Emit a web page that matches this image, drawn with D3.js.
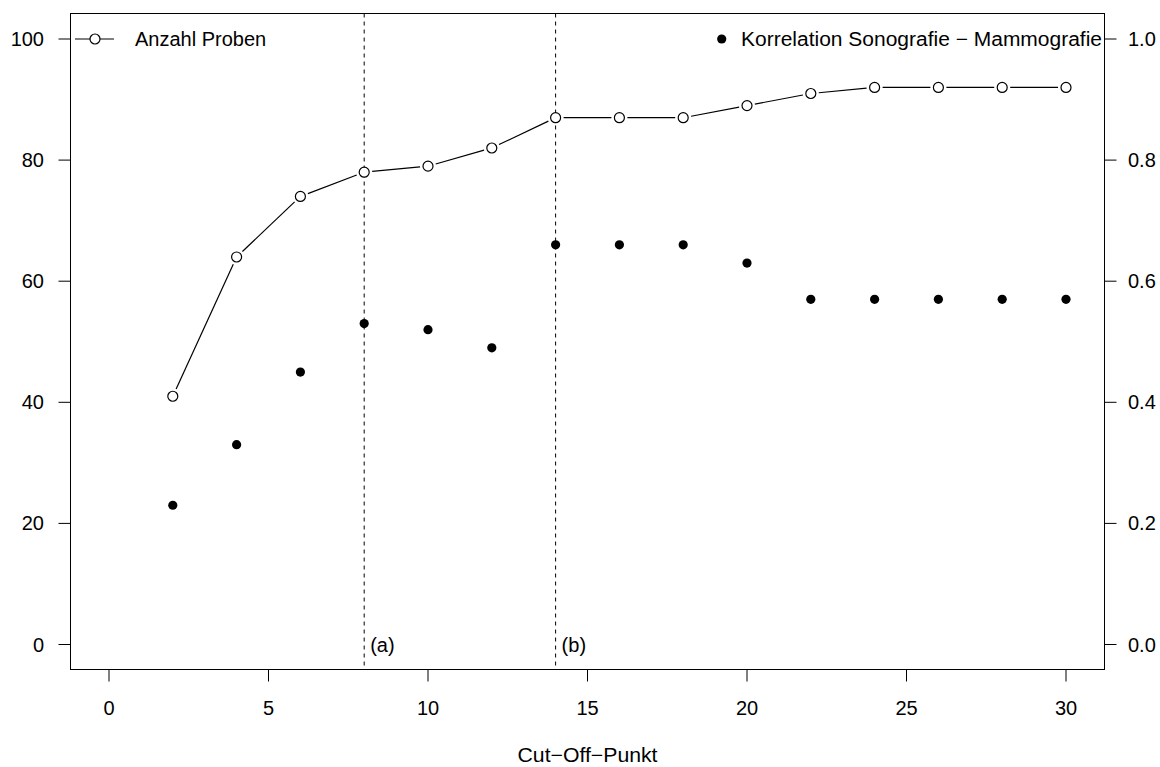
<!DOCTYPE html>
<html>
<head>
<meta charset="utf-8">
<script src="https://cdn.jsdelivr.net/npm/d3@7"></script>
<style>
  html, body { margin: 0; padding: 0; background: #fff; }
  svg text { font-family: "Liberation Sans", Arial, Helvetica, sans-serif; fill: #000; }
</style>
</head>
<body>
<svg id="chart" width="1160" height="767"></svg>
<script>
// ---- data ----
const cutoffs = [2, 4, 6, 8, 10, 12, 14, 16, 18, 20, 22, 24, 26, 28, 30];
const anzahlProben = [41, 64, 74, 78, 79, 82, 87, 87, 87, 89, 91, 92, 92, 92, 92];
const korrelation = [0.23, 0.33, 0.45, 0.53, 0.52, 0.49, 0.66, 0.66, 0.66, 0.63, 0.57, 0.57, 0.57, 0.57, 0.57];
const xTicks = [0, 5, 10, 15, 20, 25, 30];
const yLeftTicks = [0, 20, 40, 60, 80, 100];
const yRightTicks = [0.0, 0.2, 0.4, 0.6, 0.8, 1.0];
const markers = [{x: 8, label: "(a)"}, {x: 14, label: "(b)"}];
const legendLeft = "Anzahl Proben";
const legendRight = "Korrelation Sonografie \u2212 Mammografie";
const xTitle = "Cut\u2212Off\u2212Punkt";

// ---- layout ----
const svg = d3.select("#chart");
const box = {left: 70.5, right: 1104.5, top: 13.5, bottom: 669.5};
const FS = 20;

const x = d3.scaleLinear().domain([0, 30]).range([109, 1066]);
const yL = d3.scaleLinear().domain([0, 100]).range([644.5, 39]);
const yR = d3.scaleLinear().domain([0, 1]).range([644.5, 39]);

// box
svg.append("rect")
  .attr("x", box.left).attr("y", box.top)
  .attr("width", box.right - box.left).attr("height", box.bottom - box.top)
  .attr("fill", "none").attr("stroke", "#000").attr("stroke-width", 1);

// bottom axis
const gx = svg.append("g");
gx.selectAll("line").data(xTicks).enter().append("line")
  .attr("x1", d => x(d)).attr("x2", d => x(d))
  .attr("y1", box.bottom).attr("y2", box.bottom + 12)
  .attr("stroke", "#000");
gx.selectAll("text").data(xTicks).enter().append("text")
  .attr("x", d => x(d)).attr("y", 715)
  .attr("text-anchor", "middle").attr("font-size", FS)
  .text(d => d);

// left axis
const gl = svg.append("g");
gl.selectAll("line").data(yLeftTicks).enter().append("line")
  .attr("x1", box.left - 12).attr("x2", box.left)
  .attr("y1", d => yL(d)).attr("y2", d => yL(d))
  .attr("stroke", "#000");
gl.selectAll("text").data(yLeftTicks).enter().append("text")
  .attr("x", 44).attr("y", d => yL(d) + 7)
  .attr("text-anchor", "end").attr("font-size", FS)
  .text(d => d);

// right axis
const gr = svg.append("g");
gr.selectAll("line").data(yRightTicks).enter().append("line")
  .attr("x1", box.right).attr("x2", box.right + 12)
  .attr("y1", d => yR(d)).attr("y2", d => yR(d))
  .attr("stroke", "#000");
gr.selectAll("text").data(yRightTicks).enter().append("text")
  .attr("x", 1128).attr("y", d => yR(d) + 7)
  .attr("text-anchor", "start").attr("font-size", FS)
  .text(d => d3.format(".1f")(d));

// axis title
svg.append("text").attr("x", x(15)).attr("y", 762)
  .attr("text-anchor", "middle").attr("font-size", FS)
  .attr("textLength", 140).attr("lengthAdjust", "spacingAndGlyphs").text(xTitle);

// dashed vertical lines
svg.selectAll(".vline").data(markers).enter().append("line")
  .attr("x1", d => x(d.x)).attr("x2", d => x(d.x))
  .attr("y1", box.top).attr("y2", box.bottom)
  .attr("stroke", "#000").attr("stroke-dasharray", "4,4");
svg.selectAll(".vlabel").data(markers).enter().append("text")
  .attr("x", d => x(d.x) + 6).attr("y", 652)
  .attr("font-size", FS).text(d => d.label);

// line for Anzahl Proben
const pts = cutoffs.map((c, i) => ({x: c, y: anzahlProben[i]}));
const rOpen = 5;
// draw segments with gaps around circles (R type="b")
const segs = [];
for (let i = 0; i < pts.length - 1; i++) {
  const x1 = x(pts[i].x), y1 = yL(pts[i].y), x2 = x(pts[i+1].x), y2 = yL(pts[i+1].y);
  const len = Math.hypot(x2 - x1, y2 - y1);
  const gap = rOpen + 3;
  if (len > 2 * gap) {
    const ux = (x2 - x1) / len, uy = (y2 - y1) / len;
    segs.push([x1 + ux * gap, y1 + uy * gap, x2 - ux * gap, y2 - uy * gap]);
  }
}
svg.selectAll(".seg").data(segs).enter().append("line")
  .attr("x1", d => d[0]).attr("y1", d => d[1]).attr("x2", d => d[2]).attr("y2", d => d[3])
  .attr("stroke", "#000").attr("stroke-width", 1.2);
svg.selectAll(".open").data(pts).enter().append("circle")
  .attr("cx", d => x(d.x)).attr("cy", d => yL(d.y)).attr("r", rOpen)
  .attr("fill", "#fff").attr("stroke", "#000").attr("stroke-width", 1.2);

// filled points for Korrelation
svg.selectAll(".filled").data(cutoffs.map((c, i) => ({x: c, y: korrelation[i]}))).enter().append("circle")
  .attr("cx", d => x(d.x)).attr("cy", d => yR(d.y)).attr("r", 4.6)
  .attr("fill", "#000");

// legends
const ly = 39;
svg.append("line").attr("x1", 75).attr("x2", 114).attr("y1", ly).attr("y2", ly).attr("stroke", "#000").attr("stroke-width", 1.2);
svg.append("circle").attr("cx", 95).attr("cy", ly).attr("r", rOpen)
  .attr("fill", "#fff").attr("stroke", "#000").attr("stroke-width", 1.2);
svg.append("text").attr("x", 135).attr("y", ly + 7).attr("font-size", FS).text(legendLeft);

svg.append("circle").attr("cx", 721.7).attr("cy", ly).attr("r", 4.6).attr("fill", "#000");
svg.append("text").attr("x", 741).attr("y", ly + 7).attr("font-size", FS)
  .attr("textLength", 361).attr("lengthAdjust", "spacingAndGlyphs").text(legendRight);
</script>
</body>
</html>
